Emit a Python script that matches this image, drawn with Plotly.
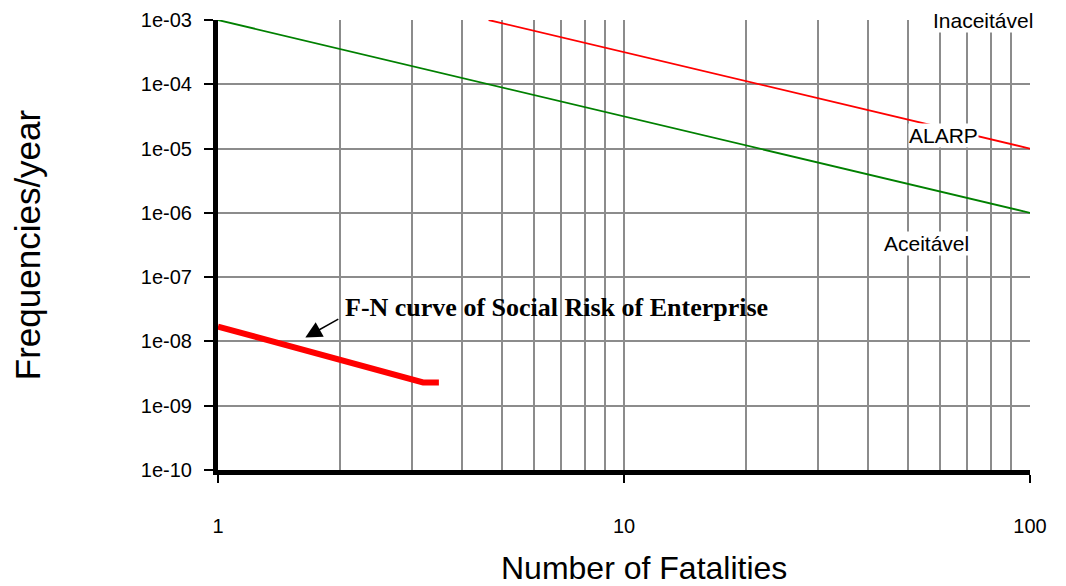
import plotly.graph_objects as go

# Data
green_n = [1, 100]
green_f = [1e-3, 1e-6]
red_n = [4.64, 100]
red_f = [1e-3, 1e-5]
fn_n = [1, 3.2, 3.5]
fn_f = [1.7e-8, 2.3e-9, 2.3e-9]

x_ticks = [1, 10, 100]
x_ticktext = ["1", "10", "100"]
x_minor = [2, 3, 4, 5, 6, 7, 8, 9, 20, 30, 40, 50, 60, 70, 80, 90]
y_ticks = [1e-10, 1e-9, 1e-8, 1e-7, 1e-6, 1e-5, 1e-4, 1e-3]
y_ticktext = ["1e-10", "1e-09", "1e-08", "1e-07", "1e-06", "1e-05", "1e-04", "1e-03"]

fig = go.Figure()
fig.add_trace(go.Scatter(x=green_n, y=green_f, mode="lines",
                         line=dict(color="#008000", width=1.8), showlegend=False))
fig.add_trace(go.Scatter(x=red_n, y=red_f, mode="lines",
                         line=dict(color="#ff0000", width=1.8), showlegend=False))
fig.add_trace(go.Scatter(x=fn_n, y=fn_f, mode="lines",
                         line=dict(color="#ff0000", width=6), showlegend=False))

grid = "#8c8c8c"
fig.update_layout(
    width=1058, height=578,
    margin=dict(l=210, r=36, t=12, b=116, autoexpand=False),
    plot_bgcolor="white", paper_bgcolor="white",
    font=dict(family="Liberation Sans, Arial", color="black", size=20),
    xaxis=dict(type="log", range=[0, 2], tickvals=x_ticks, ticktext=x_ticktext,
               automargin=False,
               showgrid=True, gridcolor=grid, gridwidth=1.5,
               minor=dict(tickvals=x_minor, showgrid=True, gridcolor=grid, gridwidth=1.5, ticks=""),
               showline=True, linecolor="black", linewidth=5,
               ticks="outside", ticklen=8, tickcolor="black", tickwidth=1.5,
               ticklabelstandoff=26,
               zeroline=False),
    yaxis=dict(type="log", range=[-10, -3], tickvals=y_ticks, ticktext=y_ticktext,
               automargin=False,
               showgrid=True, gridcolor=grid, gridwidth=1.5,
               showline=True, linecolor="black", linewidth=5,
               ticks="outside", ticklen=9, tickcolor="black", tickwidth=1.5,
               ticklabelstandoff=8,
               zeroline=False,
               title=dict(text="Frequencies/year", font=dict(size=35), standoff=92)),
)

# x-axis title (placed slightly right of centre as in the original)
fig.add_annotation(x=0.5246, y=-0.218, xref="paper", yref="paper",
                   text="Number of Fatalities", showarrow=False,
                   xanchor="center", yanchor="middle", font=dict(size=32))

fig.add_annotation(x=2, y=-3, xref="x", yref="y", text="Inaceitável", showarrow=False,
                   xanchor="right", yanchor="middle", xshift=4, bgcolor="white",
                   borderpad=0, font=dict(size=21))
fig.add_annotation(x=1.788, y=-4.79, xref="x", yref="y", text="ALARP", showarrow=False,
                   bgcolor="white", borderpad=0, font=dict(size=21))
fig.add_annotation(x=1.746, y=-6.47, xref="x", yref="y", text="Aceitável", showarrow=False,
                   bgcolor="white", borderpad=0, font=dict(size=21))
fig.add_annotation(x=0.307, y=-7.47, xref="x", yref="y",
                   text="<b>F-N curve of Social Risk of Enterprise</b>",
                   showarrow=False, xanchor="left", yanchor="middle",
                   font=dict(family="Liberation Serif, Times New Roman", size=26))
fig.add_annotation(x=0.215, y=-7.94, ax=0.300, ay=-7.64, xref="x", yref="y",
                   axref="x", ayref="y", text="", showarrow=True,
                   arrowhead=2, arrowsize=2.2, arrowwidth=1.5, arrowcolor="black")

fig.write_html("out.html")
